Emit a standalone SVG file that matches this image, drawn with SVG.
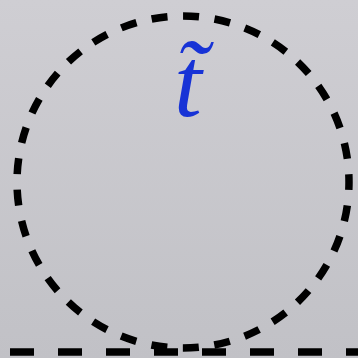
<svg xmlns="http://www.w3.org/2000/svg" width="358" height="358" viewBox="0 0 358 358">
<defs>
<linearGradient id="bg" x1="0" y1="0" x2="0" y2="1">
<stop offset="0" stop-color="#cfced3"/>
<stop offset="1" stop-color="#c1c1c6"/>
</linearGradient>
</defs>
<style>
.dash{fill:none;stroke:#000;stroke-width:7.5}
.lbl{font-family:"Liberation Serif",serif;font-style:italic;font-size:100px;fill:#1733d6}
</style>
<rect width="358" height="358" fill="url(#bg)"/>
<g id="circle-node">
<circle class="dash" cx="183" cy="182" r="166" stroke-dasharray="16 15.6" stroke-dashoffset="8"/>
<text class="lbl" x="188" y="116" text-anchor="middle">t̃</text>
</g>
<g id="connectors">
<line class="dash" x1="10" y1="352" x2="370" y2="352" stroke-dasharray="24 24"/>
</g>
</svg>
